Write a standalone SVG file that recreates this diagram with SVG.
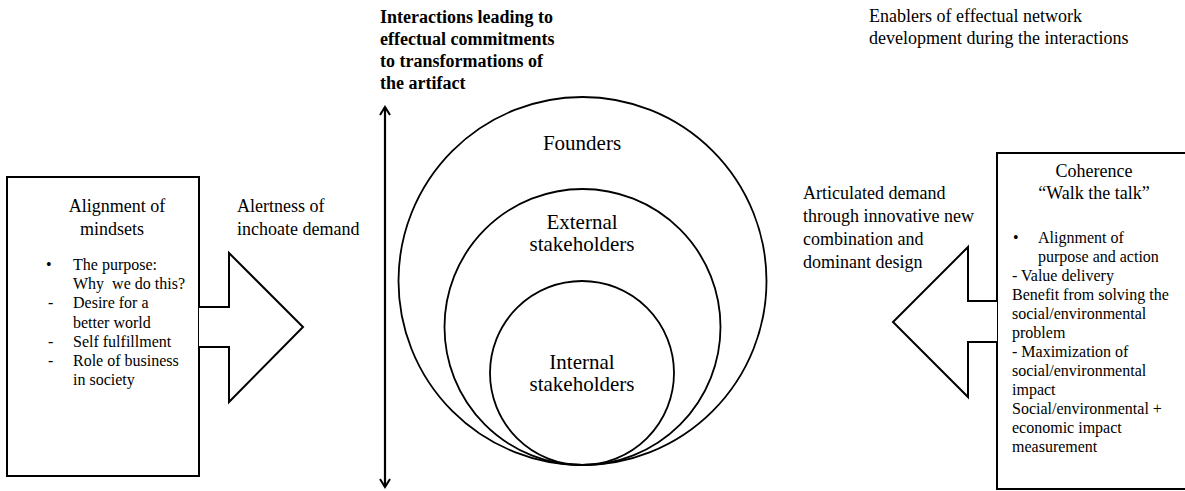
<svg xmlns="http://www.w3.org/2000/svg" width="1185" height="491" viewBox="0 0 1185 491">
<defs>
<style>
text{font-family:"Liberation Serif","Times New Roman",serif;fill:#000}
.t18{font-size:18px}
.t16{font-size:16px}
.t21{font-size:21px}
.b{font-size:18px;font-weight:bold}
.c{text-anchor:middle}
.shape{fill:#fff;stroke:#000;stroke-width:2;stroke-linejoin:miter}
.circ{fill:none;stroke:#000;stroke-width:1.8}
</style>
<marker id="ah" viewBox="0 0 12 12" refX="10" refY="6" markerWidth="12" markerHeight="12" markerUnits="userSpaceOnUse" orient="auto-start-reverse">
<path d="M2,1 L10,6 L2,11" fill="none" stroke="#000" stroke-width="2"/>
</marker>
</defs>
<rect width="1185" height="491" fill="#fff"/>

<g id="connectors">
<line x1="385" y1="487" x2="385" y2="107" stroke="#000" stroke-width="2.2" marker-start="url(#ah)" marker-end="url(#ah)"/>
</g>

<g id="title">
<text class="b" x="380" y="23">Interactions leading to</text>
<text class="b" x="380" y="45">effectual commitments</text>
<text class="b" x="380" y="67">to transformations of</text>
<text class="b" x="380" y="89">the artifact</text>
</g>

<g id="enablers">
<text class="t18" x="869" y="22">Enablers of effectual network</text>
<text class="t18" x="869" y="44">development during the interactions</text>
</g>

<g id="circles">
<circle class="circ" cx="582.5" cy="281" r="184"/>
<circle class="circ" cx="582.5" cy="327" r="138"/>
<circle class="circ" cx="582" cy="373" r="92"/>
<text class="t21 c" x="582" y="150">Founders</text>
<text class="t21 c" x="582" y="229">External</text>
<text class="t21 c" x="582" y="251">stakeholders</text>
<text class="t21 c" x="582" y="369">Internal</text>
<text class="t21 c" x="582" y="391">stakeholders</text>
</g>

<g id="left-node">
<rect class="shape" x="7" y="177" width="192" height="299"/>
<path class="shape" d="M199,307 L229,307 L229,253 L303,327 L229,402 L229,347 L199,347"/>
<text class="t18 c" x="117" y="212">Alignment of</text>
<text class="t18 c" x="112" y="235">mindsets</text>
<text class="t16" x="46" y="270">•</text>
<text class="t16" x="73" y="270">The purpose:</text>
<text class="t16" x="73" y="289" xml:space="preserve">Why  we do this?</text>
<text class="t16" x="48" y="308">-</text>
<text class="t16" x="73" y="308">Desire for a</text>
<text class="t16" x="73" y="328">better world</text>
<text class="t16" x="48" y="347">-</text>
<text class="t16" x="73" y="347">Self fulfillment</text>
<text class="t16" x="48" y="366">-</text>
<text class="t16" x="73" y="366">Role of business</text>
<text class="t16" x="73" y="385">in society</text>
</g>

<g id="alertness">
<text class="t18" x="237" y="212">Alertness of</text>
<text class="t18" x="237" y="235">inchoate demand</text>
</g>

<g id="articulated">
<text class="t18" x="803" y="199">Articulated demand</text>
<text class="t18" x="803" y="222">through innovative new</text>
<text class="t18" x="803" y="245">combination and</text>
<text class="t18" x="803" y="268">dominant design</text>
</g>

<g id="right-node">
<rect class="shape" x="997" y="153" width="200" height="336"/>
<path class="shape" d="M997,301 L968,301 L968,247 L893,322 L968,397 L968,342 L997,342"/>
<text class="t18 c" x="1094" y="177">Coherence</text>
<text class="t18 c" x="1094" y="199">“Walk the talk”</text>
<text class="t16" x="1013" y="243">•</text>
<text class="t16" x="1038" y="243">Alignment of</text>
<text class="t16" x="1038" y="262">purpose and action</text>
<text class="t16" x="1012" y="281">- Value delivery</text>
<text class="t16" x="1012" y="300">Benefit from solving the</text>
<text class="t16" x="1012" y="319">social/environmental</text>
<text class="t16" x="1012" y="338">problem</text>
<text class="t16" x="1012" y="357">- Maximization of</text>
<text class="t16" x="1012" y="376">social/environmental</text>
<text class="t16" x="1012" y="395">impact</text>
<text class="t16" x="1012" y="414">Social/environmental +</text>
<text class="t16" x="1012" y="433">economic impact</text>
<text class="t16" x="1012" y="452">measurement</text>
</g>
</svg>
